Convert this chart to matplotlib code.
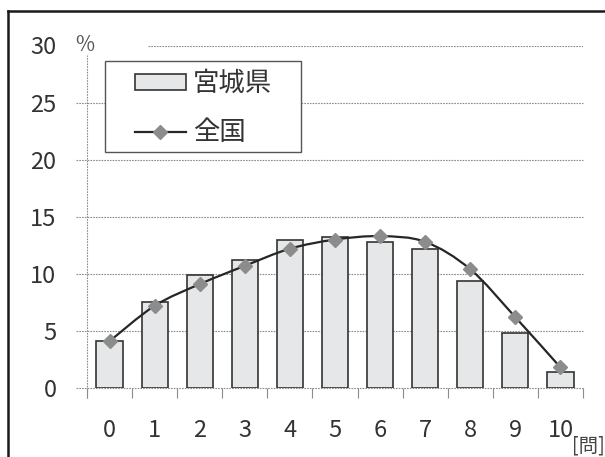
import matplotlib
matplotlib.use('Agg')
import matplotlib.pyplot as plt
import numpy as np
from matplotlib.path import Path
from matplotlib.patches import PathPatch, Rectangle
from matplotlib.lines import Line2D

plt.rcParams['font.family'] = ['Noto Sans CJK JP', 'DejaVu Sans']

# 正答数ごとの生徒の割合 (%)
questions = list(range(11))
miyagi = [4.1, 7.5, 9.9, 11.2, 13.0, 13.2, 12.8, 12.2, 9.4, 4.8, 1.4]
zenkoku = [4.1, 7.2, 9.1, 10.7, 12.2, 13.0, 13.3, 12.8, 10.4, 6.2, 1.8]
yticks = [0, 5, 10, 15, 20, 25, 30]
series_names = ['宮城県', '全国']

bar_fill = '#e6e7e8'
bar_edge = '#333333'
line_col = '#262626'
mark_col = '#8c8c8c'
text_col = '#333333'


def smooth_path(x, y):
    # Excel風のスムージング線 (Catmull-Rom -> 3次ベジェ)
    pts = np.column_stack([x, y]).astype(float)
    verts = [pts[0]]
    codes = [Path.MOVETO]
    n = len(pts)
    for i in range(n - 1):
        p0 = pts[max(i - 1, 0)]
        p1 = pts[i]
        p2 = pts[i + 1]
        p3 = pts[min(i + 2, n - 1)]
        verts += [p1 + (p2 - p0) / 6, p2 - (p3 - p1) / 6, p2]
        codes += [Path.CURVE4] * 3
    return Path(verts, codes)


fig = plt.figure(figsize=(6.05, 4.57), dpi=100)
ax = fig.add_axes([87/605, 69/457, 496/605, 342.5/457])
ax.set_xlim(-0.5, 10.5)
ax.set_ylim(0, 30)
for s in ax.spines.values():
    s.set_visible(False)

grid_kw = dict(color='#8c8c8c', lw=0.8, ls=(0, (1.5, 1)))
for v in yticks[:-1]:
    ax.axhline(v, xmin=-0.022, xmax=1, clip_on=False, zorder=1, **grid_kw)
ax.axhline(30, xmin=0.123, xmax=1, zorder=1, **grid_kw)
ax.plot([-0.5, -0.5], [-0.9, 29.2], clip_on=False, zorder=1, **grid_kw)

bars = ax.bar(questions, miyagi, width=0.58, color=bar_fill,
              edgecolor=bar_edge, lw=1.2, zorder=2)
ax.add_patch(PathPatch(smooth_path(questions, zenkoku), fill=False,
                       ec=line_col, lw=1.6, zorder=3))
ax.plot(questions, zenkoku, ls='none', marker='D', ms=7,
        mfc=mark_col, mec=mark_col, zorder=4)

ax.set_xticks(questions)
ax.set_xticklabels([str(q) for q in questions])
ax.set_xticks(np.arange(-0.5, 11, 1), minor=True)
ax.tick_params(axis='x', which='major', length=0, pad=22,
               labelsize=17, labelcolor=text_col)
ax.tick_params(axis='x', which='minor', length=7, width=0.8, color='#8c8c8c')
ax.set_yticks(yticks)
ax.tick_params(axis='y', length=0, pad=22, labelsize=17, labelcolor=text_col)

# 凡例
ax.add_patch(Rectangle((0.0363, 0.689), 0.395, 0.2657, transform=ax.transAxes,
                       fc='white', ec='#555555', lw=1.0, zorder=5, clip_on=False))
line_handle = Line2D([], [], color=line_col, lw=1.6, marker='D', ms=7,
                     mfc=mark_col, mec=mark_col)
leg = ax.legend([bars, line_handle], series_names, loc='upper left',
                bbox_to_anchor=((135-87)/496, (388-70)/342.5), frameon=False,
                borderpad=0, borderaxespad=0, fontsize=19, handlelength=1.93,
                handleheight=0.57, handletextpad=0.27, labelspacing=0.85)
for t in leg.get_texts():
    t.set_color(text_col)
leg.set_zorder(6)

fig.text(85/605, 1-45/457, '%', ha='center', va='center', fontsize=15, color='#555555')
fig.text(572/605, 1-446/457, '[問]', ha='left', va='center', fontsize=14, color='#444444')

# 外枠
fig.add_artist(Line2D([8/605, 1.01], [1-11/457, 1-11/457], transform=fig.transFigure,
                      color='#1a1a1a', lw=1.8))
fig.add_artist(Line2D([8/605, 8/605], [-0.01, 1-11/457], transform=fig.transFigure,
                      color='#1a1a1a', lw=1.8))

fig.savefig('out.png', dpi=100)
